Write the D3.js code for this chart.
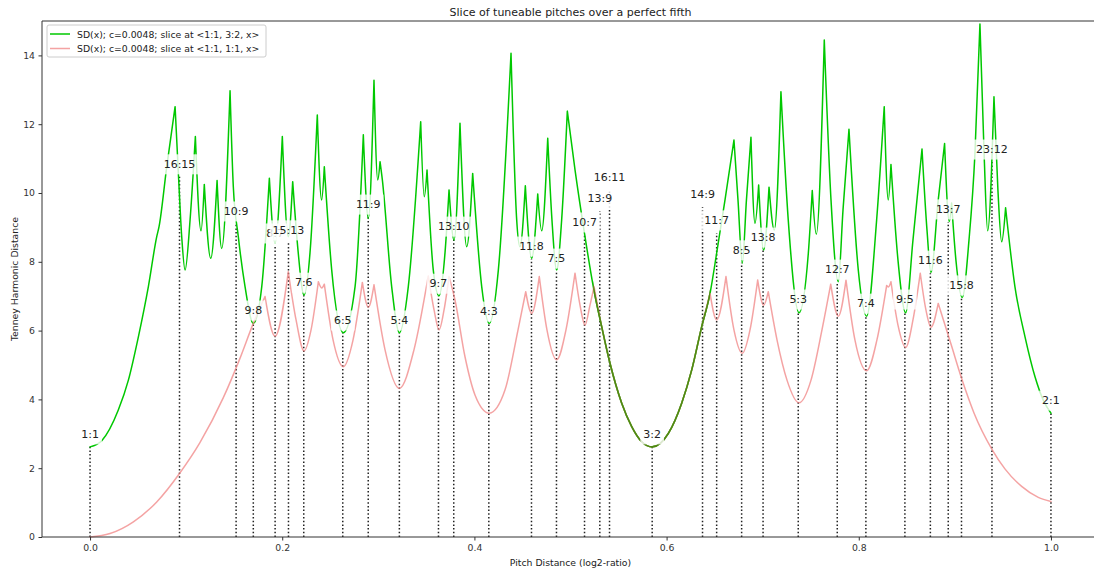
<!DOCTYPE html>
<html><head><meta charset="utf-8">
<script src="https://cdn.jsdelivr.net/npm/d3@7"></script>
<style>body{margin:0;background:#fff} text{font-family:"DejaVu Sans",sans-serif;fill:#222}</style>
</head><body><svg id="c" width="1094" height="571"></svg>
<script>
const title = "Slice of tuneable pitches over a perfect fifth";
const xLabel = "Pitch Distance (log2-ratio)";
const yLabel = "Tenney Harmonic Distance";
const seriesNames = ["SD(x); c=0.0048; slice at <1:1, 3:2, x>", "SD(x); c=0.0048; slice at <1:1, 1:1, x>"];
const xTicks = [0, 0.2, 0.4, 0.6, 0.8, 1.0];
const yTicks = [0, 2, 4, 6, 8, 10, 12, 14];

const ratioLabels = ["1:1","16:15","10:9","9:8","8:7","15:13","7:6","6:5","11:9","5:4","9:7","13:10","4:3","11:8","7:5","10:7","13:9","16:11","3:2","14:9","11:7","8:5","13:8","5:3","12:7","7:4","9:5","11:6","13:7","15:8","23:12","2:1"];
const ratioX = [0,0.0931,0.1520,0.1699,0.1926,0.2065,0.2224,0.2630,0.2895,0.3219,0.3626,0.3785,0.4150,0.4594,0.4854,0.5146,0.5305,0.5406,0.5850,0.6374,0.6521,0.6781,0.7004,0.7370,0.7776,0.8074,0.8480,0.8745,0.8931,0.9069,0.9386,1.0];
const labelY = [2.62,10.47,9.1,6.22,8.46,8.55,7.03,5.93,9.3,5.93,7.0,8.66,6.19,8.08,7.73,8.78,9.48,10.09,2.62,9.59,8.84,7.97,8.34,6.54,7.41,6.42,6.54,7.67,9.16,6.95,10.9,3.6];

const greenX = [0,0.0122,0.0294,0.0399,0.0503,0.0607,0.0694,0.0718,0.0798,0.0885,0.0919,0.0954,0.0989,0.1041,0.1096,0.1155,0.1189,0.1256,0.1322,0.1370,0.1457,0.1491,0.1543,0.1613,0.1699,0.1787,0.1866,0.1925,0.2001,0.2063,0.2109,0.2164,0.2227,0.2289,0.2365,0.2410,0.2438,0.2515,0.2636,0.2758,0.2844,0.2896,0.2955,0.2994,0.3018,0.3042,0.3139,0.3219,0.3312,0.3441,0.3478,0.3507,0.3572,0.3632,0.3694,0.3736,0.3788,0.3850,0.3920,0.3982,0.4076,0.4155,0.4249,0.4381,0.4440,0.4474,0.4530,0.4596,0.4659,0.4700,0.4763,0.4807,0.4856,0.4908,0.4967,0.5047,0.5151,0.5237,0.5325,0.5411,0.5533,0.5637,0.5741,0.5851,0.6018,0.6157,0.6261,0.6365,0.6452,0.6521,0.6608,0.6701,0.6743,0.6788,0.6831,0.6878,0.6920,0.6958,0.7010,0.7066,0.7121,0.7190,0.7266,0.7378,0.7475,0.7516,0.7558,0.7641,0.7711,0.7787,0.7836,0.7898,0.7995,0.8082,0.8186,0.8265,0.8307,0.8335,0.8408,0.8488,0.8564,0.8658,0.8710,0.8751,0.8827,0.8893,0.8942,0.8966,0.9011,0.9077,0.9147,0.9209,0.9261,0.9303,0.9341,0.9407,0.9448,0.9487,0.9528,0.9625,0.9730,0.9834,0.9920,1.0];
const greenY = [2.62,2.80,3.69,4.56,5.82,7.28,8.73,9.02,10.76,12.51,10.58,8.73,7.76,9.22,11.64,8.90,10.25,8.10,10.36,8.39,12.97,10.18,8.73,7.28,6.21,7.28,10.43,8.55,11.64,8.73,10.33,8.34,7.03,8.26,12.27,9.80,10.76,7.76,5.94,7.28,11.69,9.26,13.28,10.38,10.91,10.38,7.28,5.94,7.28,12.07,9.89,10.67,7.76,7.01,8.26,10.09,8.63,12.03,8.44,10.57,7.28,6.21,7.76,14.06,9.22,8.44,10.21,8.10,9.97,8.90,11.59,9.22,7.76,9.22,12.38,10.67,8.73,7.28,6.11,5.05,3.89,3.21,2.77,2.62,3.01,3.89,4.85,6.11,7.08,8.25,9.80,11.54,9.80,7.96,9.80,11.62,9.12,10.23,8.34,10.17,8.92,12.94,9.22,6.52,8.25,10.07,8.80,14.45,9.80,7.42,9.51,11.85,7.76,6.42,9.22,12.51,9.80,10.83,8.05,6.52,8.63,11.28,8.92,7.69,9.80,11.44,9.17,9.71,8.05,6.96,8.63,11.15,14.91,11.25,8.90,12.80,10.09,8.58,9.57,7.28,5.82,4.66,3.98,3.60];

const pinkX = [0,0.0208,0.0451,0.0694,0.0929,0.1145,0.1387,0.1561,0.1699,0.1821,0.1925,0.2063,0.2144,0.2227,0.2300,0.2376,0.2411,0.2438,0.2529,0.2636,0.2737,0.2834,0.2896,0.2955,0.3070,0.3219,0.3371,0.3520,0.3580,0.3632,0.3684,0.3736,0.3798,0.3902,0.4006,0.4155,0.4318,0.4454,0.4534,0.4596,0.4675,0.4755,0.4856,0.4953,0.5047,0.5099,0.5151,0.5203,0.5245,0.5325,0.5411,0.5533,0.5637,0.5741,0.5851,0.6018,0.6157,0.6261,0.6365,0.6452,0.6521,0.6618,0.6701,0.6788,0.6868,0.6948,0.7010,0.7058,0.7149,0.7253,0.7378,0.7503,0.7617,0.7708,0.7787,0.7867,0.7960,0.8082,0.8189,0.8290,0.8309,0.8335,0.8408,0.8488,0.8564,0.8640,0.8699,0.8751,0.8827,0.8966,0.9069,0.9200,0.9386,0.9521,0.9695,0.9868,1.0];
const pinkY = [0,0.10,0.44,1.02,1.84,2.75,4.05,5.20,6.21,6.99,5.84,7.71,6.31,5.41,6.02,7.42,7.24,7.35,5.73,4.95,5.73,7.40,6.68,7.33,5.44,4.32,5.44,7.59,6.60,6.02,6.60,7.57,6.89,5.24,4.13,3.60,4.27,6.02,7.13,6.50,7.57,6.02,5.15,6.02,7.67,6.74,6.16,6.74,7.28,6.11,5.05,3.89,3.21,2.77,2.62,3.01,3.89,4.85,6.11,7.08,6.31,7.57,6.02,5.34,6.02,7.47,6.74,7.13,5.73,4.56,3.90,4.56,6.02,7.35,6.42,7.47,5.73,4.83,5.73,7.31,7.27,7.42,6.16,5.51,6.31,7.67,6.60,6.10,6.79,5.55,4.62,3.60,2.55,1.98,1.47,1.15,1.03];

const overlapRange = [0.5237, 0.6452];

const W = 1094, H = 571;
const L = 42, R = 1099, T = 21, B = 537;
const xs = d3.scaleLinear().domain([-0.05, 1.05]).range([L, R]);
const ys = d3.scaleLinear().domain([0, 15]).range([B, T]);
const svg = d3.select("#c");
const small = 9.3, big = 11;

// dotted vertical lines
svg.append("g").selectAll("line").data(ratioX).join("line")
  .attr("x1", d => xs(d)).attr("x2", d => xs(d))
  .attr("y1", ys(0)).attr("y2", (d, i) => ys(labelY[i]))
  .attr("stroke", "#222").attr("stroke-width", 1.5).attr("stroke-dasharray", "1.5,2.2");

function segments(X, Y) {
  const pts = X.map((x, i) => [x, Y[i]]);
  const cuts = [0];
  for (let i = 1; i < pts.length - 1; i++) if (Y[i] > Y[i-1] && Y[i] > Y[i+1]) cuts.push(i);
  cuts.push(pts.length - 1);
  const segs = [];
  for (let k = 0; k < cuts.length - 1; k++) segs.push(pts.slice(cuts[k], cuts[k+1] + 1));
  return segs;
}
const line = d3.line().x(d => xs(d[0])).y(d => ys(d[1])).curve(d3.curveMonotoneX);
const pathOf = (X, Y) => segments(X, Y).map(s => line(s)).join("");

const gPath = pathOf(greenX, greenY);
const pPath = pathOf(pinkX, pinkY);

svg.append("path").attr("d", gPath).attr("fill", "none").attr("stroke", "#00c800")
  .attr("stroke-width", 1.5).attr("stroke-linejoin", "round").attr("stroke-linecap", "round");
svg.append("path").attr("d", pPath).attr("fill", "none").attr("stroke", "#f08080").attr("stroke-opacity", 0.72)
  .attr("stroke-width", 1.5).attr("stroke-linejoin", "round").attr("stroke-linecap", "round");

svg.append("clipPath").attr("id", "ov").append("rect")
  .attr("x", xs(overlapRange[0])).attr("y", T).attr("width", xs(overlapRange[1]) - xs(overlapRange[0])).attr("height", B - T);
svg.append("path").attr("d", gPath).attr("fill", "none").attr("stroke", "#4f8a12")
  .attr("stroke-width", 1.6).attr("clip-path", "url(#ov)");

// ratio labels with translucent boxes
const lg = svg.append("g");
ratioLabels.forEach((lab, i) => {
  const cx = xs(ratioX[i]), cy = ys(labelY[i]) - 12.5;
  const g = lg.append("g");
  const r = g.append("rect");
  const t = g.append("text").attr("x", cx).attr("y", cy).attr("text-anchor", "middle")
    .attr("dominant-baseline", "central").attr("font-size", big).text(lab);
  const w = t.node().getComputedTextLength();
  r.attr("x", cx - w / 2 - 3).attr("y", cy - 10).attr("width", w + 6).attr("height", 20)
    .attr("fill", "#fff").attr("fill-opacity", 0.8);
});

// spines
svg.append("line").attr("x1", L).attr("x2", L).attr("y1", T).attr("y2", B).attr("stroke", "#333");
svg.append("line").attr("x1", L).attr("x2", W).attr("y1", B).attr("y2", B).attr("stroke", "#333");
svg.append("line").attr("x1", L).attr("x2", W).attr("y1", T).attr("y2", T).attr("stroke", "#333");

// axes
const xa = svg.append("g").attr("transform", `translate(0,${B})`)
  .call(d3.axisBottom(xs).tickValues(xTicks).tickFormat(d3.format(".1f")).tickSize(3.5).tickPadding(3.5));
const ya = svg.append("g").attr("transform", `translate(${L},0)`)
  .call(d3.axisLeft(ys).tickValues(yTicks).tickFormat(d3.format("d")).tickSize(3.5).tickPadding(3.5));
[xa, ya].forEach(a => {
  a.select(".domain").remove();
  a.selectAll("line").attr("stroke", "#333");
  a.selectAll("text").attr("font-size", small).attr("font-family", "DejaVu Sans").style("fill", "#333");
});

// titles
svg.append("text").attr("x", (L + R) / 2).attr("y", 12).attr("text-anchor", "middle")
  .attr("dominant-baseline", "central").attr("font-size", big).text(title);
svg.append("text").attr("x", (L + R) / 2).attr("y", 562).attr("text-anchor", "middle")
  .attr("dominant-baseline", "central").attr("font-size", small).text(xLabel);
svg.append("text").attr("transform", `translate(14,${(T + B) / 2}) rotate(-90)`).attr("text-anchor", "middle")
  .attr("dominant-baseline", "central").attr("font-size", small).text(yLabel);

// legend
const leg = svg.append("g");
leg.append("rect").attr("x", 47).attr("y", 25).attr("width", 219).attr("height", 32).attr("rx", 2)
  .attr("fill", "#fff").attr("fill-opacity", 0.8).attr("stroke", "#ccc");
const legColors = [["#00c800", 1], ["#f08080", 0.72]];
seriesNames.forEach((n, i) => {
  const y = 34 + i * 14.5;
  leg.append("line").attr("x1", 50).attr("x2", 70).attr("y1", y).attr("y2", y)
    .attr("stroke", legColors[i][0]).attr("stroke-opacity", legColors[i][1]).attr("stroke-width", 1.5);
  leg.append("text").attr("x", 77).attr("y", y).attr("dominant-baseline", "central")
    .attr("font-size", small).text(n);
});
</script></body></html>
